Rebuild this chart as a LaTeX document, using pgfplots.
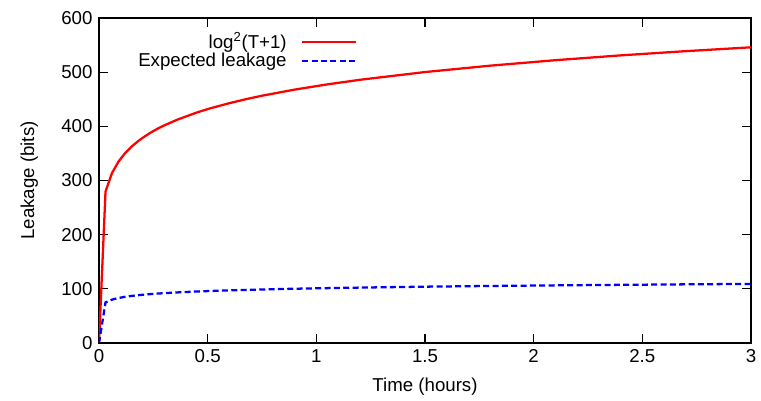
\documentclass[border=0pt]{standalone}
\usepackage{fontspec}
\setmainfont{Liberation Sans}
\usepackage{pgfplots}
\pgfplotsset{compat=1.18}

\begin{document}
\fontsize{14}{16.5}\selectfont
\begin{tikzpicture}
\begin{axis}[
    scale only axis,
    width=489pt, height=243.75pt,
    xmin=0, xmax=3, ymin=0, ymax=600,
    xtick={0,0.5,...,3}, ytick={0,100,...,600},
    xticklabels={0,0.5,1,1.5,2,2.5,3},
    tick align=inside, tick pos=both,
    major tick length=6.5pt,
    axis line style={line width=0.9pt},
    every tick/.style={black, line width=0.8pt},
    /pgf/number format/assume math mode=true,
    xlabel={Time (hours)}, ylabel={Leakage (bits)},
    xlabel style={yshift=-2pt},
    ylabel style={yshift=8pt},
    legend style={at={(rel axis cs:0.396,0.965)}, anchor=north east,
        draw=none, fill=none, inner sep=0pt, column sep=9pt, row sep=-3pt,
        font=\fontsize{14}{14.5}\selectfont},
    legend cell align=right,
    legend plot pos=right,
    legend image code/.code={\draw[#1] (0pt,0pt) -- (40pt,0pt);},
]
\addplot[color=red, line width=1.7pt] coordinates {
    (0,0) (0.03,279.6) (0.06,314.0) (0.09,335.1) (0.12,350.5) (0.15,362.6)
    (0.18,372.7) (0.21,381.3) (0.24,388.9) (0.27,395.7) (0.3,401.7)
    (0.36,412.3) (0.45,425.5) (0.51,433.0) (0.6,442.8) (0.68,450.5)
    (0.75,456.5) (0.9,467.8) (1.05,477.4) (1.2,485.9) (1.5,500.2)
    (1.8,512.0) (2.1,522.1) (2.4,531.0) (2.7,538.8) (3.0,545.9)
};
\addlegendentry{log\textsuperscript{2}(T+1)}
\addplot[color=blue, line width=1.7pt, dash pattern=on 4.5pt off 2.5pt] coordinates {
    (0,0) (0.03,75.0) (0.06,80.1) (0.09,83.1) (0.12,85.3) (0.15,86.9)
    (0.18,88.3) (0.21,89.4) (0.24,90.4) (0.27,91.3) (0.3,92.0)
    (0.36,93.4) (0.45,95.1) (0.51,96.0) (0.6,97.2) (0.68,98.1)
    (0.75,98.8) (0.9,100.2) (1.05,101.3) (1.2,102.3) (1.5,104.0)
    (1.8,105.3) (2.1,106.4) (2.4,107.4) (2.7,108.3) (3.0,109.1)
};
\addlegendentry{Expected leakage}
\coordinate (bl) at (rel axis cs:0,0);
\coordinate (tr) at (rel axis cs:1,1);
\end{axis}
\pgfresetboundingbox
\path ([shift={(-74.25pt,-42.75pt)}]bl) rectangle ([shift={(7.5pt,13.5pt)}]tr);
\end{tikzpicture}
\end{document}
